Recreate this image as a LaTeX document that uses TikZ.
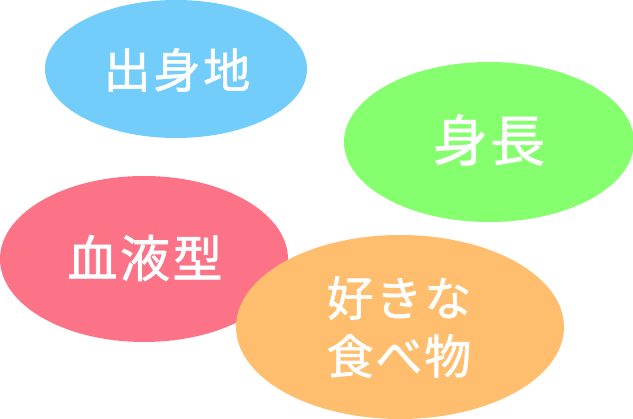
\documentclass[tikz,border=0pt]{standalone}
\usepackage{fontspec}
\newfontfamily\jpfont[FakeBold=1.2]{Noto Sans CJK JP}
\usetikzlibrary{shapes.geometric}
\definecolor{cblue}{RGB}{114,205,251}
\definecolor{cgreen}{RGB}{134,255,111}
\definecolor{cpink}{RGB}{252,114,135}
\definecolor{corange}{RGB}{255,190,110}
\tikzset{
  blob/.style={ellipse, inner sep=0pt, draw=none},
  lbl/.style={text=white, font=\jpfont, align=center, inner sep=0pt}
}
\begin{document}
\begin{tikzpicture}[x=1pt,y=-1pt]
\useasboundingbox (0,0) rectangle (633,419);
\node[blob, fill=cblue, minimum width=262pt, minimum height=138pt] (b1) at (176,69) {};
\node[blob, fill=cgreen, minimum width=290pt, minimum height=160pt] (b2) at (489,142) {};
\node[blob, fill=cpink, minimum width=288pt, minimum height=166pt] (b3) at (144,259) {};
\node[blob, fill=corange, minimum width=328pt, minimum height=184pt] (b4) at (400,327) {};
\node[lbl, font=\jpfont\fontsize{47}{58}\selectfont\addfontfeature{LetterSpace=6}] (t1) at (177,70) {出身地};
\node[lbl, font=\jpfont\fontsize{55}{65}\selectfont\addfontfeature{LetterSpace=4}] (t2) at (489,140) {身長};
\node[lbl, font=\jpfont\fontsize{50}{60}\selectfont\addfontfeature{LetterSpace=5}] (t3) at (145,258) {血液型};
\node[lbl, font=\jpfont\fontsize{47}{58}\selectfont\addfontfeature{LetterSpace=4}] (t4) at (399,327) {好きな\\食べ物};
\end{tikzpicture}
\end{document}
